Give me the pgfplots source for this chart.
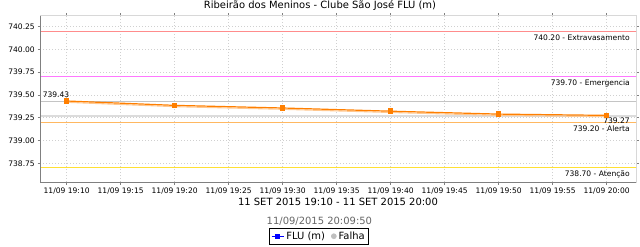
\documentclass[border=0pt]{standalone}
\usepackage{fontspec}
\setmainfont{DejaVu Sans}
\usepackage{pgfplots}
\pgfplotsset{compat=1.18}
\definecolor{gridc}{HTML}{D0D0D0}
\definecolor{axdark}{HTML}{808080}
\definecolor{axlight}{HTML}{D8D8D8}
\definecolor{thrA}{rgb}{1.0,0.55,0.55}
\definecolor{thrB}{rgb}{1.0,0.47,1.0}
\definecolor{thrC}{rgb}{1.0,0.72,0.38}
\definecolor{thrD}{rgb}{1.0,0.88,0.2}
\definecolor{dataor}{HTML}{FF7F00}
\definecolor{datash}{HTML}{FFC890}
\definecolor{minmax}{HTML}{C4C4C4}
\newcommand{\tickfont}{\fontsize{7.6}{9}\selectfont}
\begin{document}
\begin{tikzpicture}[x=1bp,y=1bp]
\path[use as bounding box] (0,0) rectangle (640,246);
\begin{axis}[
  at={(40bp,64bp)}, anchor=south west,
  scale only axis, width=596bp, height=166.3bp,
  xmin=-2.47, xmax=52.72, ymin=738.544, ymax=740.371,
  xtick={0,5,10,15,20,25,30,35,40,45,50},
  xticklabels={11/09 19:10,11/09 19:15,11/09 19:20,11/09 19:25,11/09 19:30,11/09 19:35,11/09 19:40,11/09 19:45,11/09 19:50,11/09 19:55,11/09 20:00},
  ytick={738.75,739.0,739.25,739.5,739.75,740.0,740.25},
  y tick label style={/pgf/number format/fixed,/pgf/number format/fixed zerofill,/pgf/number format/precision=2,/pgf/number format/assume math mode=true},
  ticklabel style={font=\tickfont},
  xticklabel style={anchor=north, inner sep=0pt, yshift=-3bp},
  yticklabel style={anchor=east, inner sep=0pt, xshift=-2.5bp},
  tick align=outside, major tick length=2.5bp,
  tick style={axdark, line width=0.6bp},
  axis line style={axlight, line width=0.6bp},
  grid=major, grid style={gridc, dash pattern=on 1bp off 2bp, line width=0.5bp},
  clip=true,
  legend style={at={(0.468,-0.326)}, anchor=center, draw=black, line width=0.6bp,
    font=\fontsize{10}{12}\selectfont, inner sep=1.5bp,
    /tikz/every even column/.append style={column sep=4bp}},
  legend columns=2, legend cell align=left,
]
% threshold lines
\addplot[color=thrA, line width=1.2bp, forget plot] coordinates {(-5,740.20) (60,740.20)};
\addplot[color=thrB, line width=1.1bp, forget plot] coordinates {(-5,739.70) (60,739.70)};
\addplot[color=thrC, line width=1.1bp, forget plot] coordinates {(-5,739.20) (60,739.20)};
\addplot[color=thrD, line width=1.2bp, forget plot] coordinates {(-5,738.70) (60,738.70)};
% min/max reference lines
\addplot[color=minmax, line width=0.8bp, forget plot] coordinates {(-5,739.43) (60,739.43)};
\addplot[color=minmax!60, line width=1.6bp, forget plot] coordinates {(-5,739.272) (60,739.272)};
% data shadow
\addplot[color=datash, line width=1.1bp, yshift=-1.3bp, forget plot] coordinates {
 (0,739.434) (10,739.386) (20,739.357) (30,739.322) (40,739.290) (50,739.276)};
% data
\addplot[color=dataor, line width=1.2bp, mark=square*, mark size=2.1bp, mark options={dataor}, forget plot] coordinates {
 (0,739.434) (10,739.386) (20,739.357) (30,739.322) (40,739.290) (50,739.276)};
% labels
\node[font=\tickfont, anchor=north east, inner sep=0pt, yshift=-3bp] at (axis cs:52.16,740.20) {740.20 - Extravasamento};
\node[font=\tickfont, anchor=north east, inner sep=0pt, yshift=-3bp] at (axis cs:52.16,739.70) {739.70 - Emergencia};
\node[font=\tickfont, anchor=north east, inner sep=0pt, yshift=-3bp] at (axis cs:52.16,739.20) {739.20 - Alerta};
\node[font=\tickfont, anchor=north east, inner sep=0pt, yshift=-3bp] at (axis cs:52.16,738.70) {738.70 - Atenção};
\node[font=\tickfont, anchor=south east, inner sep=0pt, xshift=2.8bp, yshift=3.5bp] at (axis cs:0,739.434) {739.43};
\node[font=\tickfont, anchor=north east, inner sep=0pt, yshift=-2bp] at (axis cs:52.16,739.276) {739.27};
% axis lines (dark left and bottom)
\draw[axdark, line width=0.7bp] (rel axis cs:0,0) -- (rel axis cs:0,1);
\draw[axdark, line width=0.7bp] (rel axis cs:0,0) -- (rel axis cs:1,0);
% legend
\addlegendimage{legend image code/.code={\draw[blue, line width=1.2bp] (0bp,0bp) -- (12bp,0bp); \fill[blue] (4bp,-2bp) rectangle (8bp,2bp);}}
\addlegendentry{FLU (m)}
\addlegendimage{legend image code/.code={\fill[black!25] (4bp,0bp) circle (2.5bp);}}
\addlegendentry{Falha}
\end{axis}
\node[font=\fontsize{10}{12}\selectfont] at (320,240) {Ribeirão dos Meninos - Clube São José FLU (m)};
\node[font=\fontsize{10}{12}\selectfont] at (338,44) {11 SET 2015 19:10 - 11 SET 2015 20:00};
\node[font=\fontsize{10}{12}\selectfont, text=black!60] at (319.4,25) {11/09/2015 20:09:50};
\end{tikzpicture}
\end{document}
